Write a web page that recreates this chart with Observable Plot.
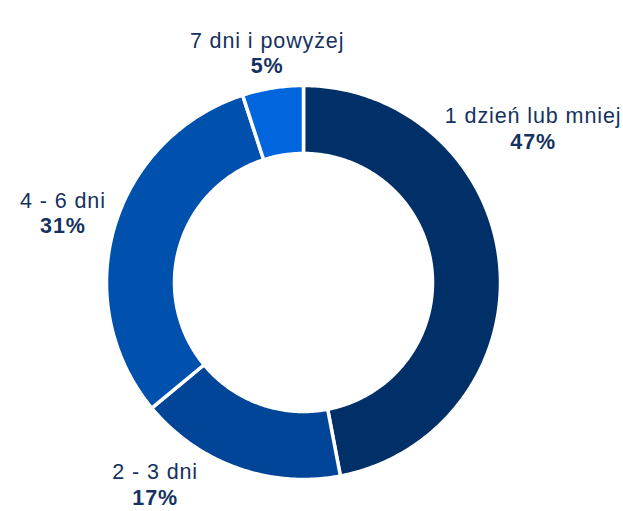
<!DOCTYPE html>
<html><head><meta charset="utf-8">
<script src="https://cdn.jsdelivr.net/npm/d3@7"></script>
<script src="https://cdn.jsdelivr.net/npm/@observablehq/plot@0.6"></script>
<style>html,body{margin:0;padding:0;background:#fff;overflow:hidden}</style>
</head><body><div id="chart"></div>
<script>
// ---- data ----
const categories = ["1 dzień lub mniej", "2 - 3 dni", "4 - 6 dni", "7 dni i powyżej"];
const shares = [47, 17, 31, 5];
const percentLabels = ["47%", "17%", "31%", "5%"];
const colors = ["#003067", "#004598", "#0050ad", "#0066dd"];

// ---- layout config ----
const W = 623, H = 511;
const CX = 303, CY = 282;          // donut centre in pixels
const R_OUT = 197, R_IN = 129;     // radii (before white separator stroke)
const R_LABEL = 210;               // clearance between centre and nearest label text
const FONT = "'Liberation Sans', Arial, sans-serif";
const FS = 21.5, LS = 0.9;         // font size, letter spacing
const NAME_DY = -5, PCT_DY = 20.5; // baselines relative to label block centre
const TEXT_COLOR = "#15325f";

const rows = categories.map((name, i) => ({name, value: shares[i], pct: percentLabels[i]}));
const arcs = d3.pie().sort(null).value(d => d.value)(rows);

// ring polygons
const ringPts = [];
for (const a of arcs) {
  const n = Math.max(2, Math.ceil((a.endAngle - a.startAngle) / 0.01));
  for (let k = 0; k <= n; k++) {
    const t = a.startAngle + (a.endAngle - a.startAngle) * k / n;
    ringPts.push({name: a.data.name, x: R_OUT * Math.sin(t), y: R_OUT * Math.cos(t)});
  }
  for (let k = n; k >= 0; k--) {
    const t = a.startAngle + (a.endAngle - a.startAngle) * k / n;
    ringPts.push({name: a.data.name, x: R_IN * Math.sin(t), y: R_IN * Math.cos(t)});
  }
}

// label layout (screen coords relative to centre, y down)
const ctx = document.createElement("canvas").getContext("2d");
function textW(s, weight) {
  ctx.font = `${weight} ${FS}px ${FONT}`;
  return ctx.measureText(s).width + LS * s.length;
}
const CAP = FS * 0.716;
function rectDist(x0, x1, y0, y1) {
  const dx = x0 > 0 ? x0 : (x1 < 0 ? -x1 : 0);
  const dy = y0 > 0 ? y0 : (y1 < 0 ? -y1 : 0);
  return Math.hypot(dx, dy);
}
function nearest(cx, cy, w1, w2) {
  const r1 = rectDist(cx - w1 / 2, cx + w1 / 2, cy + NAME_DY - CAP, cy + NAME_DY + 4);
  const r2 = rectDist(cx - w2 / 2, cx + w2 / 2, cy + PCT_DY - CAP, cy + PCT_DY);
  return Math.min(r1, r2);
}
function place(theta, w1, w2) {
  const ux = Math.sin(theta), uy = -Math.cos(theta);
  let lo = 0, hi = 800;
  for (let i = 0; i < 60; i++) {
    const m = (lo + hi) / 2;
    if (nearest(m * ux, m * uy, w1, w2) < R_LABEL) lo = m; else hi = m;
  }
  return [hi * ux, hi * uy];
}
function fits([x, y], w1, w2) {
  const a = Math.max(w1, w2) / 2;
  return x - a >= -CX + 2 && x + a <= W - CX - 2 &&
         y + NAME_DY - CAP >= -CY + 2 && y + PCT_DY <= H - CY - 6;
}
const labels = arcs.map(arc => {
  const w1 = textW(arc.data.name, "normal"), w2 = textW(arc.data.pct, "bold");
  let theta = (arc.startAngle + arc.endAngle) / 2;
  const deg = theta * 180 / Math.PI;
  const diag = Math.round((deg - 45) / 90) * 90 + 45;
  const dir = Math.sign(diag - deg) || 1;
  let p = place(theta, w1, w2);
  for (let k = 0; k < 720 && !fits(p, w1, w2); k++) {
    theta += dir * 0.25 * Math.PI / 180;
    p = place(theta, w1, w2);
  }
  return {name: arc.data.name, pct: arc.data.pct, x: p[0], y: -p[1]};
});

const chart = Plot.plot({
  width: W, height: H,
  margin: 0,
  style: `background:#fff;font-family:${FONT};letter-spacing:${LS}px;`,
  x: {domain: [-CX, W - CX], range: [0, W], axis: null},
  y: {domain: [-(H - CY), CY], range: [H, 0], axis: null},
  color: {domain: categories, range: colors},
  marks: [
    Plot.line(ringPts, {x: "x", y: "y", z: "name", fill: "name", stroke: "white",
      strokeWidth: 3.5, curve: "linear-closed"}),
    Plot.text(labels, {x: "x", y: "y", text: "name", dy: NAME_DY, lineAnchor: "bottom",
      fontSize: FS, fontFamily: FONT, fill: TEXT_COLOR, textAnchor: "middle"}),
    Plot.text(labels, {x: "x", y: "y", text: "pct", dy: PCT_DY, lineAnchor: "bottom",
      fontSize: FS, fontFamily: FONT, fontWeight: "bold", fill: TEXT_COLOR, textAnchor: "middle"})
  ]
});
document.getElementById("chart").appendChild(chart);
</script>
</body></html>
